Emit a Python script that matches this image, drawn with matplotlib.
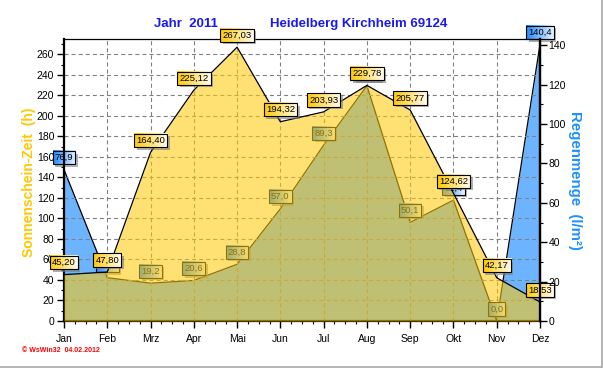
import numpy as np
import matplotlib
matplotlib.use('Agg')
import matplotlib.pyplot as plt
from matplotlib.ticker import MultipleLocator
from matplotlib.patches import Rectangle
from matplotlib.lines import Line2D
from matplotlib.colors import to_rgb

plt.rcParams['font.family'] = ['Liberation Sans', 'DejaVu Sans']
plt.rcParams['lines.scale_dashes'] = False

# ---- data ----
months = ['Jan', 'Feb', 'Mrz', 'Apr', 'Mai', 'Jun', 'Jul', 'Aug', 'Sep', 'Okt', 'Nov', 'Dez']
sunshine = [45.20, 47.80, 164.40, 225.12, 267.03, 194.32, 203.93, 229.78, 205.77, 124.62, 42.17, 18.53]
rain = [76.9, 22.0, 19.2, 20.6, 28.8, 57.0, 89.3, 119.5, 50.1, 61.4, 0.0, 140.4]
title_left = 'Jahr  2011'
title_right = 'Heidelberg Kirchheim 69124'
ylabel_left = 'Sonnenschein-Zeit  (h)'
ylabel_right = 'Regenmenge  (l/m²)'
footer = '© WsWin32  04.02.2012'

YMAX_L = 275.0
YMAX_R = 143.2
k = YMAX_L / YMAX_R

W, H = 603, 370
fig = plt.figure(figsize=(W / 100, H / 100), dpi=100)
fig.patch.set_facecolor('white')
ax = fig.add_axes([64 / W, 1 - 321 / H, 476 / W, 282 / H])
ax.set_facecolor('white')

x = np.arange(len(months))
rain_s = np.array(rain) * k
sun = np.array(sunshine)

# rain area
ax.fill_between(x, 0, rain_s, color='#6CB4FF', lw=0, zorder=1)
ax.plot(x, rain_s, color='black', lw=0.9, zorder=1.2)

# grid
ax.set_axisbelow('line')
ax.grid(True, which='major', color='#808080', lw=0.8, linestyle=(0, (2.9, 2.2)))

# sunshine area (semi transparent on top)
ax.fill_between(x, 0, sun, color='#FFCA0A', alpha=0.57, lw=0, zorder=4)
ax.plot(x, sun, color='black', lw=0.9, zorder=4.5)

ax.set_xlim(0, 11)
ax.set_ylim(0, YMAX_L)
ax.set_xticks(x, months)
ax.xaxis.set_minor_locator(MultipleLocator(0.25))
ax.yaxis.set_major_locator(MultipleLocator(20))
ax.yaxis.set_minor_locator(MultipleLocator(10))
ax.tick_params(which='major', direction='out', length=5, width=1, labelsize=7.5, pad=2)
ax.tick_params(axis='x', which='major', pad=4)
ax.tick_params(which='minor', direction='out', length=2.5, width=0.8)
for s in ['left', 'bottom', 'right']:
    ax.spines[s].set_linewidth(1.6)
ax.spines['top'].set_linewidth(0.9)

ax2 = ax.twinx()
ax2.set_ylim(0, YMAX_R)
ax2.yaxis.set_major_locator(MultipleLocator(20))
ax2.yaxis.set_minor_locator(MultipleLocator(10))
ax2.tick_params(which='major', direction='out', length=5, width=1, labelsize=7.5, pad=1)
ax2.tick_params(which='minor', direction='out', length=2.5, width=0.8)
for s in ['left', 'top', 'bottom']:
    ax2.spines[s].set_visible(False)
ax2.spines['right'].set_linewidth(1.6)

# labels
def fmt(v, d):
    return f'{v:.{d}f}'.replace('.', ',')

items = []
off = 8.6
for i, v in enumerate(rain):
    t = ax.annotate(fmt(v, 1), (x[i], rain_s[i]), xytext=(0, off), textcoords='offset points',
                    ha='center', va='center', fontsize=6.8, zorder=2.4,
                    bbox=dict(boxstyle='square,pad=0.22', fc='none', ec='black', lw=0.8),
                    annotation_clip=False)
    items.append((t, '#1E88FF', '#EAF4FF', 2.4))
for i, v in enumerate(sunshine):
    t = ax.annotate(fmt(v, 2), (x[i], sun[i]), xytext=(0, off), textcoords='offset points',
                    ha='center', va='center', fontsize=6.8, zorder=6.4,
                    bbox=dict(boxstyle='square,pad=0.22', fc='none', ec='black', lw=0.8),
                    annotation_clip=False)
    items.append((t, '#FFC800', '#FFFDF0', 6.4))

fig.canvas.draw()
r = fig.canvas.get_renderer()
inv = ax.transData.inverted()
for t, c0, c1, z in items:
    bb = t.get_bbox_patch().get_window_extent(r)
    a0 = np.array(to_rgb(c0)); a1 = np.array(to_rgb(c1))
    tt = np.linspace(0, 1, 64)[None, :, None]
    grad = a0 + (a1 - a0) * tt
    (x0, y0), (x1, y1) = inv.transform([[bb.x0, bb.y0], [bb.x1, bb.y1]])
    im = ax.imshow(grad, extent=(x0, x1, y0, y1), aspect='auto', zorder=z - 0.1,
                   interpolation='bilinear')
    im.set_clip_on(False)
    (sx0, sy0), (sx1, sy1) = inv.transform([[bb.x0 + 2.5, bb.y0 - 2.5], [bb.x1 + 2.5, bb.y1 - 2.5]])
    ax.add_patch(Rectangle((sx0, sy0), sx1 - sx0, sy1 - sy0, fc='#7A7A7A', ec='none', alpha=0.6,
                           zorder=z - 0.2, clip_on=False))
ax.set_xlim(0, 11)
ax.set_ylim(0, YMAX_L)

# titles / axis labels
blue_t = '#1A1AEE'
fig.text(154 / W, 1 - 24 / H, title_left, color=blue_t, fontsize=9.5, fontweight='bold', ha='left', va='center')
fig.text(270 / W, 1 - 24 / H, title_right, color=blue_t, fontsize=9.5, fontweight='bold', ha='left', va='center')
fig.text(29 / W, 1 - 182 / H, ylabel_left, color='#FFC800', fontsize=10, fontweight='bold',
         rotation=90, ha='center', va='center')
fig.text(575 / W, 1 - 180 / H, ylabel_right, color='#1E90FF', fontsize=10.8, fontweight='bold',
         rotation=-90, ha='center', va='center')
fig.text(22 / W, 1 - 351 / H, footer, color='red', fontsize=5.0, fontweight='bold', ha='left', va='center')

# window frame
fig.add_artist(Line2D([0, 601.5 / W], [1 - 367 / H] * 2, transform=fig.transFigure, color='#A8A8A8', lw=1.2))
fig.add_artist(Line2D([601.5 / W] * 2, [1 - 367 / H, 1], transform=fig.transFigure, color='#A8A8A8', lw=1.2))

fig.savefig('out.png', dpi=100)
